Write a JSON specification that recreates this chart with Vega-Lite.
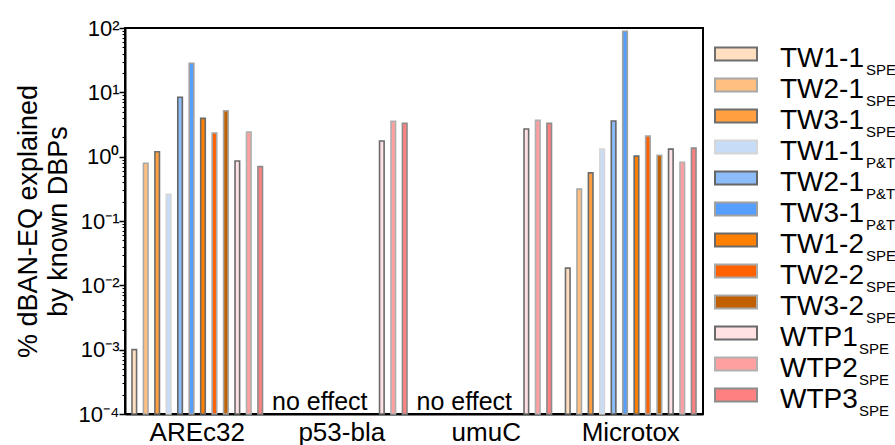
{
  "$schema": "https://vega.github.io/schema/vega-lite/v6.json",
  "padding": {"left": 13, "top": 16, "right": 0, "bottom": 0},
  "background": "white",
  "spacing": 10,
  "config": {
    "font": "Liberation Sans",
    "view": {"stroke": null}
  },
  "datasets": {
    "bars": [
      {"test": "AREc32", "series": "TW1-1 SPE", "value": 0.001},
      {"test": "AREc32", "series": "TW2-1 SPE", "value": 0.79},
      {"test": "AREc32", "series": "TW3-1 SPE", "value": 1.19},
      {"test": "AREc32", "series": "TW1-1 P&T", "value": 0.26},
      {"test": "AREc32", "series": "TW2-1 P&T", "value": 8.4},
      {"test": "AREc32", "series": "TW3-1 P&T", "value": 28.3},
      {"test": "AREc32", "series": "TW1-2 SPE", "value": 3.94},
      {"test": "AREc32", "series": "TW2-2 SPE", "value": 2.33},
      {"test": "AREc32", "series": "TW3-2 SPE", "value": 5.17},
      {"test": "AREc32", "series": "WTP1 SPE", "value": 0.855},
      {"test": "AREc32", "series": "WTP2 SPE", "value": 2.41},
      {"test": "AREc32", "series": "WTP3 SPE", "value": 0.70},
      {"test": "p53-bla", "series": "WTP1 SPE", "value": 1.75},
      {"test": "p53-bla", "series": "WTP2 SPE", "value": 3.54},
      {"test": "p53-bla", "series": "WTP3 SPE", "value": 3.30},
      {"test": "umuC", "series": "WTP1 SPE", "value": 2.69},
      {"test": "umuC", "series": "WTP2 SPE", "value": 3.67},
      {"test": "umuC", "series": "WTP3 SPE", "value": 3.30},
      {"test": "Microtox", "series": "TW1-1 SPE", "value": 0.0185},
      {"test": "Microtox", "series": "TW2-1 SPE", "value": 0.313},
      {"test": "Microtox", "series": "TW3-1 SPE", "value": 0.56},
      {"test": "Microtox", "series": "TW1-1 P&T", "value": 1.31},
      {"test": "Microtox", "series": "TW2-1 P&T", "value": 3.58},
      {"test": "Microtox", "series": "TW3-1 P&T", "value": 88.9},
      {"test": "Microtox", "series": "TW1-2 SPE", "value": 1.02},
      {"test": "Microtox", "series": "TW2-2 SPE", "value": 2.09},
      {"test": "Microtox", "series": "TW3-2 SPE", "value": 1.05},
      {"test": "Microtox", "series": "WTP1 SPE", "value": 1.31},
      {"test": "Microtox", "series": "WTP2 SPE", "value": 0.82},
      {"test": "Microtox", "series": "WTP3 SPE", "value": 1.36}
    ],
    "notes": [
      {"test": "p53-bla", "note": "no effect"},
      {"test": "umuC", "note": "no effect"}
    ],
    "legend": [
      {"series": "TW1-1 SPE", "main": "TW1-1", "sub": "SPE", "kind": "TW"},
      {"series": "TW2-1 SPE", "main": "TW2-1", "sub": "SPE", "kind": "TW"},
      {"series": "TW3-1 SPE", "main": "TW3-1", "sub": "SPE", "kind": "TW"},
      {"series": "TW1-1 P&T", "main": "TW1-1", "sub": "P&T", "kind": "TW"},
      {"series": "TW2-1 P&T", "main": "TW2-1", "sub": "P&T", "kind": "TW"},
      {"series": "TW3-1 P&T", "main": "TW3-1", "sub": "P&T", "kind": "TW"},
      {"series": "TW1-2 SPE", "main": "TW1-2", "sub": "SPE", "kind": "TW"},
      {"series": "TW2-2 SPE", "main": "TW2-2", "sub": "SPE", "kind": "TW"},
      {"series": "TW3-2 SPE", "main": "TW3-2", "sub": "SPE", "kind": "TW"},
      {"series": "WTP1 SPE", "main": "WTP1", "sub": "SPE", "kind": "WTP"},
      {"series": "WTP2 SPE", "main": "WTP2", "sub": "SPE", "kind": "WTP"},
      {"series": "WTP3 SPE", "main": "WTP3", "sub": "SPE", "kind": "WTP"}
    ]
  },
  "hconcat": [
    {
      "width": 578,
      "height": 386,
      "view": {"stroke": "black", "strokeWidth": 2},
      "layer": [
        {
          "data": {"name": "bars"},
          "mark": {"type": "bar", "strokeWidth": 1.6},
          "encoding": {
            "x": {
              "field": "test",
              "type": "nominal",
              "sort": ["AREc32", "p53-bla", "umuC", "Microtox"],
              "scale": {"domain": ["AREc32", "p53-bla", "umuC", "Microtox"], "paddingInner": 0, "paddingOuter": 0},
              "axis": {
                "title": null,
                "labelAngle": 0,
                "labelFontSize": 26,
                "labelColor": "black",
                "labelPadding": 5,
                "ticks": false,
                "domainColor": "black",
                "domainWidth": 2
              }
            },
            "xOffset": {
              "field": "series",
              "type": "nominal",
              "scale": {
                "domain": ["TW1-1 SPE", "TW2-1 SPE", "TW3-1 SPE", "TW1-1 P&T", "TW2-1 P&T", "TW3-1 P&T", "TW1-2 SPE", "TW2-2 SPE", "TW3-2 SPE", "WTP1 SPE", "WTP2 SPE", "WTP3 SPE"],
                "paddingInner": 0.6,
                "paddingOuter": 0.61
              }
            },
            "y": {
              "field": "value",
              "type": "quantitative",
              "scale": {"type": "log", "domain": [0.0001, 100], "nice": false},
              "axis": {
                "title": ["% dBAN-EQ explained", "by known DBPs"],
                "titleFontSize": 27,
                "titleFontWeight": "normal",
                "titleColor": "black",
                "titleLineHeight": 30,
                "titlePadding": 6,
                "values": [0.0001, 0.0002, 0.0003, 0.0004, 0.0005, 0.0006, 0.0007, 0.0008, 0.0009, 0.001, 0.002, 0.003, 0.004, 0.005, 0.006, 0.007, 0.008, 0.009, 0.01, 0.02, 0.03, 0.04, 0.05, 0.06, 0.07, 0.08, 0.09, 0.1, 0.2, 0.3, 0.4, 0.5, 0.6, 0.7, 0.8, 0.9, 1, 2, 3, 4, 5, 6, 7, 8, 9, 10, 20, 30, 40, 50, 60, 70, 80, 90, 100],
                "labelExpr": "abs(log(datum.value)/LN10 - round(log(datum.value)/LN10)) < 0.001 ? '10' + replace(replace(replace(replace(replace(replace(''+round(log(datum.value)/LN10), '-', '⁻'), '0', '⁰'), '1', '¹'), '2', '²'), '3', '³'), '4', '⁴') : ''",
                "labelFontSize": 22,
                "labelColor": "black",
                "labelPadding": 0,
                "labelFlush": false,
                "labelOverlap": false,
                "labelBound": false,
                "tickSize": {"condition": {"test": "abs(log(datum.value)/LN10 - round(log(datum.value)/LN10)) < 0.001", "value": 6}, "value": 3},
                "tickWidth": {"condition": {"test": "abs(log(datum.value)/LN10 - round(log(datum.value)/LN10)) < 0.001", "value": 1.5}, "value": 1.1},
                "tickColor": "black",
                "domainColor": "black",
                "domainWidth": 2,
                "grid": false
              }
            },
            "y2": {"datum": 0.0001},
            "color": {
              "field": "series",
              "type": "nominal",
              "scale": {
                "domain": ["TW1-1 SPE", "TW2-1 SPE", "TW3-1 SPE", "TW1-1 P&T", "TW2-1 P&T", "TW3-1 P&T", "TW1-2 SPE", "TW2-2 SPE", "TW3-2 SPE", "WTP1 SPE", "WTP2 SPE", "WTP3 SPE"],
                "range": ["#FFDFC0", "#FFBF80", "#FF9F40", "#C6DCF7", "#8DBDF9", "#559FFF", "#FF8000", "#FF6000", "#C06000", "#FFE0E3", "#FFA0A0", "#FF8080"]
              },
              "legend": null
            },
            "stroke": {
              "field": "series",
              "type": "nominal",
              "scale": {
                "domain": ["TW1-1 SPE", "TW2-1 SPE", "TW3-1 SPE", "TW1-1 P&T", "TW2-1 P&T", "TW3-1 P&T", "TW1-2 SPE", "TW2-2 SPE", "TW3-2 SPE", "WTP1 SPE", "WTP2 SPE", "WTP3 SPE"],
                "range": ["#6E6E6E", "#A8A8A8", "#6E6E6E", "#D6D6D6", "#666666", "#A0A0A0", "#6A6A6A", "#A8A8A8", "#A8A8A8", "#6A6A6A", "#B0B0B0", "#8C8C8C"]
              },
              "legend": null
            }
          }
        },
        {
          "data": {"name": "notes"},
          "mark": {"type": "text", "fontSize": 25, "color": "black", "dx": -22, "dy": -4, "baseline": "alphabetic", "align": "center"},
          "encoding": {
            "x": {"field": "test", "type": "nominal"},
            "y": {"datum": 0.0001, "type": "quantitative"},
            "text": {"field": "note"}
          }
        }
      ]
    },
    {
      "width": 182,
      "height": 386,
      "data": {"name": "legend"},
      "encoding": {
        "y": {
          "field": "series",
          "type": "nominal",
          "scale": {
            "type": "point",
            "domain": ["TW1-1 SPE", "TW2-1 SPE", "TW3-1 SPE", "TW1-1 P&T", "TW2-1 P&T", "TW3-1 P&T", "TW1-2 SPE", "TW2-2 SPE", "TW3-2 SPE", "WTP1 SPE", "WTP2 SPE", "WTP3 SPE"],
            "padding": 0.726,
            "align": 0.578
          },
          "axis": null
        }
      },
      "layer": [
        {
          "mark": {"type": "bar", "height": 13, "strokeWidth": 2},
          "encoding": {
            "x": {"value": 1},
            "x2": {"value": 43},
            "color": {"field": "series", "type": "nominal", "legend": null},
            "stroke": {"field": "series", "type": "nominal", "legend": null}
          }
        },
        {
          "mark": {"type": "text", "fontSize": 28, "align": "left", "baseline": "alphabetic", "dy": 13, "color": "black"},
          "encoding": {
            "x": {"value": 66},
            "text": {"field": "main"}
          }
        },
        {
          "transform": [{"filter": "datum.kind == 'TW'"}],
          "mark": {"type": "text", "fontSize": 15, "align": "left", "baseline": "alphabetic", "dy": 21, "color": "black"},
          "encoding": {
            "x": {"value": 152},
            "text": {"field": "sub"}
          }
        },
        {
          "transform": [{"filter": "datum.kind == 'WTP'"}],
          "mark": {"type": "text", "fontSize": 15, "align": "left", "baseline": "alphabetic", "dy": 21, "color": "black"},
          "encoding": {
            "x": {"value": 145},
            "text": {"field": "sub"}
          }
        }
      ]
    }
  ]
}
